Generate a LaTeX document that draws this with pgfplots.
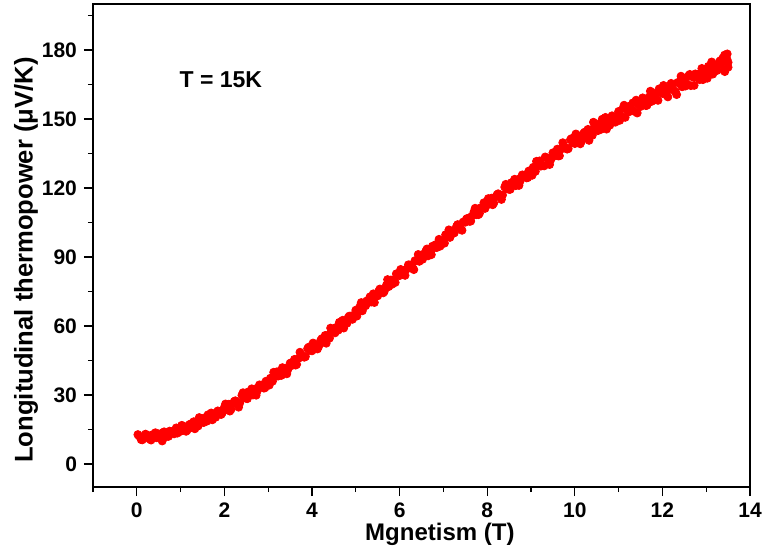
\documentclass[border=0pt]{standalone}
\usepackage{fontspec}
\setmainfont{Liberation Sans}
\usepackage{pgfplots}
\pgfplotsset{compat=1.18}

\pgfplotstableread{
x y
0.05 12.2
0.10 10.6
0.15 11.9
0.20 13.0
0.25 11.4
0.30 10.8
0.35 12.7
0.40 12.3
0.45 11.4
0.50 13.1
0.55 12.1
0.58 10.0
0.60 13.7
0.65 11.7
0.70 13.5
0.75 14.3
0.80 13.6
0.85 13.1
0.90 15.7
0.95 14.6
1.00 14.2
1.05 16.6
1.10 15.4
1.15 14.7
1.20 17.1
1.25 15.9
1.30 18.4
1.35 18.0
1.40 16.5
1.45 19.2
1.50 18.7
1.55 20.1
1.60 18.6
1.65 20.5
1.70 22.2
1.75 20.6
1.80 20.3
1.85 23.1
1.90 22.8
1.95 22.2
2.00 24.7
2.05 23.7
2.10 26.0
2.15 23.7
2.20 26.3
2.25 27.5
2.30 26.7
2.35 26.5
2.40 29.9
2.45 28.8
2.50 28.5
2.55 31.4
2.60 30.4
2.65 30.0
2.70 32.6
2.75 31.7
2.80 34.4
2.85 34.3
2.90 33.0
2.95 36.0
3.00 35.7
3.05 37.3
3.10 36.0
3.15 38.2
3.20 40.1
3.25 38.7
3.30 38.5
3.35 41.5
3.40 41.5
3.45 41.1
3.50 43.8
3.55 42.9
3.60 45.5
3.65 43.3
3.70 46.0
3.75 47.4
3.80 46.8
3.85 46.7
3.90 50.2
3.95 49.4
4.00 49.2
4.05 52.2
4.10 51.4
4.15 51.0
4.20 53.8
4.25 53.0
4.30 55.9
4.35 55.9
4.40 54.7
4.45 57.8
4.50 57.7
4.55 59.4
4.60 58.2
4.65 60.5
4.70 62.5
4.75 61.2
4.80 61.2
4.85 64.3
4.90 64.4
4.95 64.1
5.00 66.9
5.05 66.1
5.10 68.7
5.15 66.6
5.20 69.4
5.25 70.9
5.30 70.4
5.35 70.4
5.40 74.0
5.45 73.2
5.50 73.1
5.55 76.1
5.60 75.3
5.65 75.0
5.70 77.8
5.75 77.1
5.80 80.0
5.85 80.0
5.90 78.9
5.95 82.0
6.00 81.9
6.05 83.6
6.10 82.4
6.15 84.6
6.20 86.6
6.25 85.3
6.30 85.3
6.35 88.4
6.40 88.4
6.45 88.1
6.50 90.9
6.55 90.1
6.60 92.6
6.65 90.5
6.70 93.3
6.75 94.7
6.80 94.1
6.85 94.1
6.90 97.7
6.95 96.8
7.00 96.7
7.05 99.7
7.10 98.8
7.15 98.5
7.20 101.3
7.25 100.5
7.30 103.3
7.35 103.3
7.40 102.2
7.45 105.2
7.50 105.1
7.55 106.8
7.60 105.5
7.65 107.8
7.70 109.7
7.75 108.4
7.80 108.4
7.85 111.4
7.90 111.5
7.95 111.1
8.00 113.9
8.05 113.0
8.10 115.6
8.15 113.4
8.20 116.2
8.25 117.5
8.30 116.9
8.35 116.9
8.40 120.4
8.45 119.6
8.50 119.4
8.55 122.3
8.60 121.4
8.65 121.0
8.70 123.7
8.75 122.9
8.80 125.7
8.85 125.6
8.90 124.4
8.95 127.4
9.00 127.2
9.05 129.0
9.10 127.2
9.15 129.7
9.20 131.8
9.25 130.0
9.30 129.6
9.35 133.1
9.40 132.9
9.45 132.2
9.50 135.3
9.55 134.0
9.60 136.9
9.65 134.0
9.70 137.0
9.75 138.4
9.80 137.4
9.85 137.1
9.90 141.0
9.95 139.8
10.00 139.3
10.05 142.9
10.10 141.2
10.15 140.3
10.20 143.7
10.25 142.0
10.30 145.5
10.35 145.0
10.40 142.9
10.45 146.7
10.50 146.1
10.55 147.9
10.60 145.5
10.65 148.3
10.70 150.7
10.75 148.0
10.80 147.3
10.85 151.4
10.90 150.8
10.95 149.7
11.00 153.3
11.05 151.3
11.10 154.6
11.15 150.7
11.20 154.2
11.25 155.6
11.30 154.1
11.35 153.4
11.40 158.2
11.45 156.3
11.50 155.4
11.55 159.2
11.60 157.2
11.65 156.0
11.70 159.6
11.75 157.6
11.80 161.2
11.85 160.5
11.90 158.1
11.95 162.0
12.00 161.1
12.05 163.1
12.10 160.3
12.15 163.2
12.20 165.5
12.25 162.6
12.30 161.8
12.35 165.9
12.40 165.2
12.45 164.0
12.50 167.6
12.55 165.4
12.60 168.8
12.65 164.5
12.70 168.2
12.75 169.6
12.80 167.9
12.85 167.1
12.90 172.0
12.95 170.0
13.00 168.9
13.05 172.9
13.10 170.8
13.15 169.5
13.20 173.1
13.25 171.1
13.30 174.9
13.35 174.0
13.38 176.5
13.40 171.5
13.42 177.8
13.45 175.6
13.48 178.3
13.50 174.6
13.50 172.5
}\seebeck

% second sweep, interleaved, a bit noisier
\pgfplotstableread{
x y
0.025 12.8
0.125 10.5
0.225 12.4
0.325 10.4
0.425 13.6
0.525 11.6
0.625 14.0
0.725 12.0
0.825 14.3
0.925 13.4
1.025 16.8
1.125 14.2
1.225 17.4
1.325 15.3
1.425 20.2
1.525 18.0
1.625 21.4
1.725 19.2
1.825 22.4
1.925 21.5
2.025 26.1
2.125 23.0
2.225 27.2
2.325 24.7
2.425 31.0
2.525 28.4
2.625 32.7
2.725 29.9
2.825 34.1
2.925 33.1
3.025 34.3
3.125 39.9
3.225 38.2
3.325 41.9
3.425 39.2
3.525 44.0
3.625 43.0
3.725 48.6
3.825 46.4
3.925 50.8
4.025 52.6
4.125 50.0
4.225 54.5
4.325 52.5
4.425 59.1
4.525 57.0
4.625 61.6
4.725 59.1
4.825 63.6
4.925 62.9
5.025 64.3
5.125 70.2
5.225 68.8
5.325 72.7
5.425 70.2
5.525 75.2
5.625 74.4
5.725 80.2
5.825 78.1
5.925 82.7
6.025 84.6
6.125 82.0
6.225 86.5
6.325 84.5
6.425 91.1
6.525 89.0
6.625 93.5
6.725 91.0
6.825 95.4
6.925 94.7
7.025 96.0
7.125 101.8
7.225 100.3
7.325 104.1
7.425 101.6
7.525 106.5
7.625 105.6
7.725 111.2
7.825 109.0
7.925 113.6
8.025 115.4
8.125 112.7
8.225 117.1
8.325 115.0
8.425 121.6
8.525 119.4
8.625 123.8
8.725 121.1
8.825 125.4
8.925 124.5
9.025 125.5
9.125 131.6
9.225 129.5
9.325 133.5
9.425 130.2
9.525 135.3
9.625 133.9
9.725 139.7
9.825 136.9
9.925 141.5
10.025 143.5
10.125 139.2
10.225 144.3
10.325 140.7
10.425 148.6
10.525 144.9
10.625 149.9
10.725 145.6
10.825 150.5
10.925 148.6
11.025 149.4
11.125 156.0
11.225 153.0
11.325 157.0
11.425 152.6
11.525 158.0
11.625 155.8
11.725 162.1
11.825 158.3
11.925 163.1
12.025 164.6
12.125 159.6
12.225 164.7
12.325 160.6
12.425 168.6
12.525 164.3
12.625 169.4
12.725 164.6
12.825 169.5
12.925 167.1
13.025 167.7
13.125 174.8
13.225 171.3
13.325 175.4
13.425 170.6
13.475 175.9
}\seebeckb

\begin{document}
\begin{tikzpicture}
\begin{axis}[
  scale only axis,
  width=328.5pt, height=241.5pt,
  xmin=-1, xmax=14, ymin=-10, ymax=200,
  xtick={0,2,...,14},
  ytick={0,30,...,180},
  minor xtick={-1,1,...,13},
  minor ytick={15,45,...,195},
  tick pos=left, tick align=outside,
  major tick length=4.5pt, minor tick length=2.5pt,
  every tick/.style={black, line width=0.6pt},
  axis line style={line width=1pt},
  ticklabel style={font=\bfseries\fontsize{10.5}{12}\selectfont},
  /pgf/number format/assume math mode=true,
  xlabel={Mgnetism (T)},
  ylabel={Longitudinal thermopower (μV/K)},
  xlabel style={font=\bfseries\fontsize{12}{14}\selectfont,
                at={(axis description cs:0.528,0)}, anchor=center, yshift=-23.5pt},
  ylabel style={font=\bfseries\fontsize{12.8}{14}\selectfont,
                at={(axis description cs:-0.102,0.47)}, anchor=center},
]
\addplot[only marks, mark=*, mark size=2pt, color=red] table[x=x, y=y] {\seebeck};
\addplot[only marks, mark=*, mark size=2pt, color=red] table[x=x, y=y] {\seebeckb};
\node[font=\bfseries\fontsize{11.5}{13}\selectfont] at (axis cs:1.92,167) {T = 15K};
\end{axis}
\pgfresetboundingbox
\useasboundingbox ([shift={(-46.5pt,-34.5pt)}]current axis.south west) rectangle ([shift={(7pt,2pt)}]current axis.north east);
\end{tikzpicture}
\end{document}
